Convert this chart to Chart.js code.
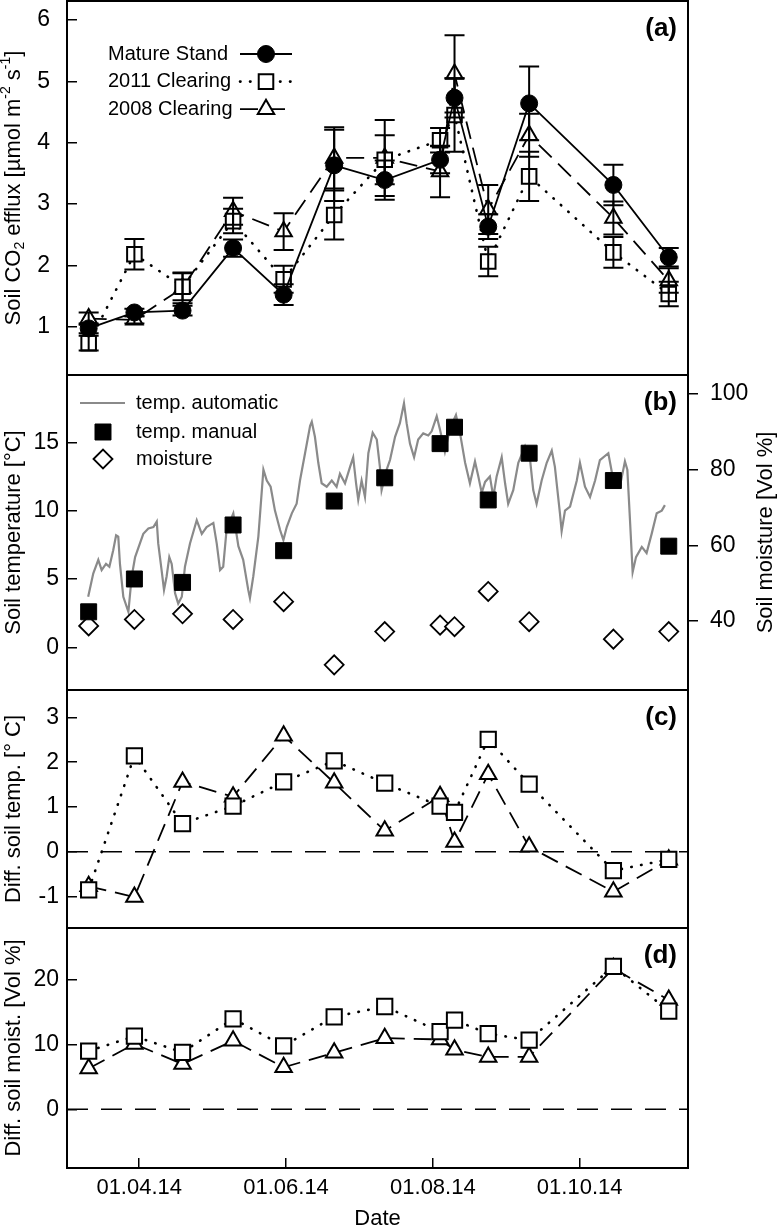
<!DOCTYPE html>
<html lang="en">
<head>
<meta charset="UTF-8">
<meta name="viewport" content="width=device-width, initial-scale=1.0">
<title>Soil CO2 efflux, soil temperature and moisture 2014</title>
<script src="https://cdn.jsdelivr.net/npm/chart.js@4.4.1/dist/chart.umd.min.js"></script>
<style>
  html, body { margin: 0; padding: 0; background: #fff; }
  #figure { position: relative; width: 780px; height: 1230px; overflow: hidden; }
  #figure canvas { position: absolute; left: 0; }
</style>
</head>
<body>
<div id="figure">
  <canvas id="panelA" width="780" height="376" style="top:0px"></canvas>
  <canvas id="panelB" width="780" height="317" style="top:374px"></canvas>
  <canvas id="panelC" width="780" height="240" style="top:689px"></canvas>
  <canvas id="panelD" width="780" height="303" style="top:927px"></canvas>
</div>
<script>
Chart.defaults.font.family = "'Liberation Sans', Arial, Helvetica, sans-serif";
Chart.defaults.color = '#000';

// measurement campaigns, day of year 2014
const campaignDays = [70, 89, 109, 130, 151, 172, 193, 216, 222, 236, 253, 288, 311];
// x ticks (day of year) and their labels
const dateTicks = [91, 152, 213, 274];
const dateLabels = ['01.04.14', '01.06.14', '01.08.14', '01.10.14'];

// (a) soil CO2 efflux [µmol m-2 s-1] and error
const matureStand  = [0.97, 1.23, 1.26, 2.28, 1.52, 3.63, 3.39, 3.72, 4.73, 2.63, 4.64, 3.31, 2.13];
const matureErr    = [0.08, 0.06, 0.08, 0.14, 0.17, 0.58, 0.32, 0.22, 0.32, 0.20, 0.60, 0.33, 0.15];
const clearing2011 = [0.73, 2.18, 1.65, 2.72, 1.77, 2.82, 3.72, 4.04, 4.45, 2.06, 3.45, 2.21, 1.53];
const err2011      = [0.12, 0.25, 0.22, 0.20, 0.22, 0.40, 0.40, 0.20, 0.60, 0.24, 0.40, 0.25, 0.20];
const clearing2008 = [1.13, 1.11, 1.63, 2.88, 2.55, 3.75, 3.75, 3.53, 5.12, 2.91, 4.12, 2.77, 1.75];
const err2008      = [0.10, 0.06, 0.25, 0.22, 0.30, 0.50, 0.62, 0.42, 0.63, 0.40, 0.35, 0.27, 0.20];
const effluxTicks  = [1, 2, 3, 4, 5, 6];

// (b) soil temperature [°C] and moisture [Vol %]
const tempManual = [2.6, 5.0, 4.75, 8.95, 7.07, 10.7, 12.4, 14.9, 16.1, 10.78, 14.2, 12.2, 7.4];
const moisture   = [38.7, 40.4, 41.9, 40.4, 45.1, 28.4, 37.2, 38.9, 38.5, 47.8, 39.8, 35.2, 37.2];
// logger trace
const autoDays = [69.8, 71.9, 74.0, 75.4, 77.2, 78.6, 80.2, 81.4, 82.3, 83.0,
  84.4, 86.5, 87.9, 89.3, 91.3, 92.7, 94.8, 96.9, 98.3, 98.9,
  100.3, 101.3, 102.4, 103.5, 104.5, 105.9, 107.2, 108.7, 110.0, 112.1,
  114.9, 117.0, 119.0, 121.8, 123.2, 124.6, 125.9, 127.3, 130.1, 132.2,
  134.2, 136.3, 137.0, 138.4, 140.5, 142.6, 144.0, 145.6, 147.4, 149.5,
  150.9, 152.3, 154.4, 156.4, 157.8, 159.9, 162.0, 162.7, 164.0, 165.4,
  166.8, 168.9, 171.0, 173.0, 174.4, 176.5, 178.6, 179.9, 181.1, 182.0,
  183.4, 184.8, 186.2, 188.0, 189.7, 191.0, 191.7, 193.8, 195.2, 197.3,
  199.3, 201.0, 202.1, 203.5, 205.2, 206.9, 209.0, 211.1, 212.5, 214.6,
  216.0, 218.0, 220.1, 222.6, 224.3, 226.4, 228.4, 230.5, 231.9, 233.3,
  234.7, 236.7, 238.1, 239.5, 241.6, 243.0, 244.3, 246.4, 248.5, 251.3,
  253.4, 254.7, 256.1, 258.2, 260.3, 262.4, 263.7, 265.8, 266.5, 267.9,
  270.0, 272.8, 274.1, 276.2, 278.3, 280.4, 282.4, 285.9, 288.0, 290.7,
  292.8, 293.8, 294.9, 296.0, 297.4, 299.8, 301.8, 303.9, 306.0, 308.1,
  309.4];
const autoTemp = [3.7, 5.4, 6.4, 5.65, 6.1, 5.9, 7.1, 8.2, 8.1, 6.1,
  3.7, 2.6, 5.2, 6.6, 7.6, 8.3, 8.7, 8.8, 9.2, 7.6,
  5.65, 4.2, 5.2, 6.6, 6.1, 3.95, 3.2, 3.7, 5.9, 7.6,
  9.3, 8.3, 8.8, 9.1, 7.6, 5.65, 5.9, 8.6, 9.8, 7.4,
  6.4, 4.2, 3.6, 5.2, 8.1, 13.0, 12.2, 11.75, 10.0, 8.6,
  7.85, 8.8, 9.8, 10.5, 12.2, 14.2, 16.2, 16.5, 15.4, 13.5,
  12.0, 11.75, 12.2, 11.75, 12.7, 12.0, 13.2, 13.9, 12.0, 10.8,
  12.2, 11.0, 14.2, 15.7, 15.2, 13.2, 11.5, 13.0, 13.7, 15.4,
  16.4, 17.85, 16.4, 14.9, 13.9, 15.2, 15.65, 15.5, 15.8, 16.9,
  15.9, 14.3, 16.0, 17.0, 15.65, 13.5, 12.0, 13.6, 12.5, 11.3,
  12.1, 12.5, 11.0, 12.5, 13.9, 12.0, 10.5, 11.5, 13.5, 14.7,
  13.7, 11.5, 10.5, 12.2, 13.5, 14.4, 13.2, 9.8, 8.5, 10.0,
  10.3, 12.2, 13.5, 11.75, 11.0, 12.2, 13.7, 14.2, 12.2, 11.75,
  13.6, 13.0, 9.3, 5.5, 6.6, 7.35, 6.9, 8.3, 9.8, 10.0,
  10.4];
const tempTicks = [0, 5, 10, 15];
const moistTicks = [40, 60, 80, 100];

// (c) difference of soil temperature to mature stand [°C]
const dTemp2011 = [-0.85, 2.14, 0.63, 1.02, 1.56, 2.03, 1.53, 1.02, 0.88, 2.51, 1.51, -0.42, -0.17];
const dTemp2008 = [-0.77, -1.01, 1.56, 1.23, 2.59, 1.54, 0.47, 1.24, 0.22, 1.73, 0.11, -0.89, -0.18];
const dTempTicks = [-1, 0, 1, 2, 3];

// (d) difference of soil moisture to mature stand [Vol %]
const dMoist2011 = [9.0, 11.3, 8.8, 14.0, 9.8, 14.3, 15.9, 12.0, 13.8, 11.7, 10.7, 22.1, 15.2];
const dMoist2008 = [6.3, 10.1, 7.0, 10.6, 6.5, 8.75, 11.0, 10.8, 9.2, 8.1, 8.1, 21.8, 16.9];
const dMoistTicks = [0, 10, 20];

const FONT = Chart.defaults.font.family;
const pts = arr => campaignDays.map((d, i) => ({ x: d, y: arr[i] }));

// line + marker styles
const solid  = { borderColor: '#000', borderWidth: 1.8, tension: 0 };
const dotted = { borderColor: '#000', borderWidth: 2.6, borderDash: [0.5, 9.5], borderCapStyle: 'round', tension: 0 };
const dashed = { borderColor: '#000', borderWidth: 1.8, borderDash: [18, 9], tension: 0 };
const filledCircle = { pointStyle: 'circle', pointRadius: 8.5, pointBackgroundColor: '#000', pointBorderColor: '#000', pointBorderWidth: 1 };
const openSquare   = { pointStyle: 'rect', pointRadius: 10.3, pointBackgroundColor: '#fff', pointBorderColor: '#000', pointBorderWidth: 2 };
const openTriangle = { pointStyle: 'triangle', pointRadius: 9.5, pointBackgroundColor: '#fff', pointBorderColor: '#000', pointBorderWidth: 2 };

function xAxis(show) {
  return {
    type: 'linear', min: 61, max: 319, display: show,
    afterBuildTicks: s => { s.ticks = dateTicks.map(v => ({ value: v })); },
    afterFit: s => { if (show) s.height = 62; s.paddingLeft = 0; s.paddingRight = 0; },
    grid: { drawOnChartArea: false, drawTicks: true, tickLength: -10, color: '#000', lineWidth: 1.5 },
    border: { display: false },
    ticks: { padding: 17, maxRotation: 0, autoSkip: false, color: '#000', font: { size: 22 },
      callback: v => dateLabels[dateTicks.indexOf(v)] },
    title: { display: show, text: 'Date', color: '#000', font: { size: 22, lineHeight: 1 }, padding: 0 }
  };
}

function yAxis(o) {
  const right = o.position === 'right';
  return {
    type: 'linear', position: o.position || 'left', min: o.min, max: o.max,
    afterBuildTicks: s => { s.ticks = o.ticks.map(v => ({ value: v })); },
    afterFit: s => { s.width = right ? 92 : 67; s.paddingTop = 0; s.paddingBottom = 0; },
    grid: { drawOnChartArea: false, drawTicks: true, tickLength: right ? 10 : -10, color: '#000', lineWidth: 1.5 },
    border: { display: false },
    ticks: { padding: o.pad, color: '#000', font: { size: 23 } },
    title: o.title
      ? { display: true, text: o.title, color: '#000', font: { size: 22 }, padding: { top: 1, bottom: 0 } }
      : { display: false }
  };
}

function options(scales, padRight, padBottom) {
  return {
    responsive: false, animation: false, events: [],
    layout: { autoPadding: false, padding: { top: 1, bottom: padBottom, left: 0, right: padRight } },
    plugins: { legend: { display: false }, tooltip: { enabled: false } },
    scales
  };
}

// drawing helpers
function marker(ctx, ds, x, y) {
  ctx.save();
  ctx.setLineDash([]);
  ctx.fillStyle = ds.pointBackgroundColor;
  ctx.strokeStyle = ds.pointBorderColor;
  ctx.lineWidth = ds.pointBorderWidth;
  Chart.helpers.drawPoint(ctx, { pointStyle: ds.pointStyle, radius: ds.pointRadius, rotation: 0, borderWidth: ds.pointBorderWidth }, x, y);
  ctx.restore();
}

function sampleLine(ctx, ds, x1, x2, y) {
  ctx.save();
  ctx.strokeStyle = ds.borderColor;
  ctx.lineWidth = ds.borderWidth;
  ctx.setLineDash(ds.borderDash || []);
  ctx.lineCap = ds.borderCapStyle || 'butt';
  ctx.beginPath(); ctx.moveTo(x1, y); ctx.lineTo(x2, y); ctx.stroke();
  ctx.restore();
}

function legendText(ctx, text, x, y) {
  ctx.save();
  ctx.fillStyle = '#000';
  ctx.font = '20px ' + FONT;
  ctx.textAlign = 'left'; ctx.textBaseline = 'middle';
  ctx.fillText(text, x, y);
  ctx.restore();
}

function verticalText(ctx, parts, x, yMid) {
  ctx.save();
  ctx.translate(x, yMid);
  ctx.rotate(-Math.PI / 2);
  ctx.fillStyle = '#000';
  ctx.textAlign = 'left'; ctx.textBaseline = 'middle';
  let total = 0;
  parts.forEach(p => { ctx.font = p.size + 'px ' + FONT; p.w = ctx.measureText(p.text).width; total += p.w; });
  let cx = -total / 2;
  parts.forEach(p => { ctx.font = p.size + 'px ' + FONT; ctx.fillText(p.text, cx, p.dy || 0); cx += p.w; });
  ctx.restore();
}

function zeroLine(chart) {
  const { ctx, chartArea: a } = chart;
  const y0 = chart.scales.y.getPixelForValue(0);
  ctx.save();
  ctx.strokeStyle = '#000'; ctx.lineWidth = 1.5; ctx.setLineDash([21, 13]);
  ctx.beginPath(); ctx.moveTo(a.left, y0); ctx.lineTo(a.right, y0); ctx.stroke();
  ctx.restore();
}

function panel(letter, hooks) {
  return {
    id: 'panel',
    beforeDatasetsDraw(chart) { if (hooks.under) hooks.under(chart); },
    afterDatasetsDraw(chart) { if (hooks.over) hooks.over(chart); },
    afterDraw(chart) {
      const { ctx, chartArea: a } = chart;
      ctx.save();
      ctx.strokeStyle = '#000'; ctx.lineWidth = 2; ctx.setLineDash([]);
      ctx.strokeRect(a.left, a.top, a.right - a.left, a.bottom - a.top);
      ctx.fillStyle = '#000';
      ctx.font = 'bold 26px ' + FONT;
      ctx.textAlign = 'right'; ctx.textBaseline = 'middle';
      ctx.fillText(letter, a.right - 11, a.top + 28);
      ctx.restore();
      if (hooks.last) hooks.last(chart);
    }
  };
}

// ---------- (a) ----------
new Chart(document.getElementById('panelA'), {
  type: 'line',
  data: {
    datasets: [
      { label: 'Mature Stand', data: pts(matureStand), errors: matureErr, ...solid, ...filledCircle },
      { label: '2011 Clearing', data: pts(clearing2011), errors: err2011, ...dotted, ...openSquare },
      { label: '2008 Clearing', data: pts(clearing2008), errors: err2008, ...dashed, ...openTriangle }
    ]
  },
  options: options({
    x: xAxis(false),
    y: yAxis({ min: 0.21, max: 6.31, ticks: effluxTicks, pad: 27 })
  }, 92, 1),
  plugins: [panel('(a)', {
    over(chart) {
      // error bars
      const { ctx } = chart;
      const ys = chart.scales.y;
      ctx.save();
      ctx.strokeStyle = '#000'; ctx.lineWidth = 2; ctx.setLineDash([]);
      chart.data.datasets.forEach((ds, i) => {
        chart.getDatasetMeta(i).data.forEach((p, j) => {
          const v = ds.data[j].y, e = ds.errors[j];
          const yTop = ys.getPixelForValue(v + e), yBot = ys.getPixelForValue(v - e);
          ctx.beginPath();
          ctx.moveTo(p.x, yTop); ctx.lineTo(p.x, yBot);
          ctx.moveTo(p.x - 10, yTop); ctx.lineTo(p.x + 10, yTop);
          ctx.moveTo(p.x - 10, yBot); ctx.lineTo(p.x + 10, yBot);
          ctx.stroke();
        });
      });
      ctx.restore();
    },
    last(chart) {
      const { ctx, chartArea: a } = chart;
      const sets = chart.data.datasets;
      sets.forEach((ds, i) => {
        const y = a.top + 53 + i * 27.6;
        legendText(ctx, ds.label, 108, y);
        sampleLine(ctx, ds, 240, 292, y);
        marker(ctx, ds, 266, y);
      });
      verticalText(ctx, [
        { text: 'Soil CO', size: 22 },
        { text: '2', size: 14, dy: 6 },
        { text: ' efflux [µmol m', size: 22 },
        { text: '-2', size: 14, dy: -8 },
        { text: ' s', size: 22 },
        { text: '-1', size: 14, dy: -8 },
        { text: ']', size: 22 }
      ], 14, (a.top + a.bottom) / 2);
    }
  })]
});

// ---------- (b) ----------
new Chart(document.getElementById('panelB'), {
  type: 'line',
  data: {
    datasets: [
      { label: 'temp. manual', data: pts(tempManual), showLine: false, yAxisID: 'y',
        pointStyle: 'rect', pointRadius: 11.3, pointBackgroundColor: '#000', pointBorderColor: '#000', pointBorderWidth: 1 },
      { label: 'moisture', data: pts(moisture), showLine: false, yAxisID: 'y2',
        pointStyle: 'rectRot', pointRadius: 9.5, pointBackgroundColor: '#fff', pointBorderColor: '#000', pointBorderWidth: 1.8 },
      { label: 'temp. automatic', data: autoDays.map((d, i) => ({ x: d, y: autoTemp[i] })), yAxisID: 'y',
        borderColor: '#8a8a8a', borderWidth: 2.2, pointRadius: 0, tension: 0 }
    ]
  },
  options: options({
    x: xAxis(false),
    y: yAxis({ min: -3.12, max: 19.92, ticks: tempTicks, pad: 18, title: 'Soil temperature [°C]' }),
    y2: yAxis({ position: 'right', min: 21.76, max: 105, ticks: moistTicks, pad: 12 })
  }, 0, 1),
  plugins: [panel('(b)', {
    last(chart) {
      const { ctx, chartArea: a } = chart;
      const [manual, moist, auto] = chart.data.datasets;
      sampleLine(ctx, auto, 80, 125, a.top + 28);
      legendText(ctx, auto.label, 136, a.top + 28);
      marker(ctx, manual, 103, a.top + 57);
      legendText(ctx, manual.label, 136, a.top + 57);
      marker(ctx, moist, 103, a.top + 84);
      legendText(ctx, moist.label, 136, a.top + 84);
      verticalText(ctx, [{ text: 'Soil moisture [Vol %]', size: 22 }], 766, (a.top + a.bottom) / 2);
    }
  })]
});

// ---------- (c) ----------
new Chart(document.getElementById('panelC'), {
  type: 'line',
  data: {
    datasets: [
      { label: '2011 Clearing', data: pts(dTemp2011), ...dotted, ...openSquare, pointRadius: 10.8 },
      { label: '2008 Clearing', data: pts(dTemp2008), ...dashed, ...openTriangle }
    ]
  },
  options: options({
    x: xAxis(false),
    y: yAxis({ min: -1.70, max: 3.61, ticks: dTempTicks, pad: 18, title: 'Diff. soil temp. [° C]' })
  }, 92, 1),
  plugins: [panel('(c)', { under: zeroLine })]
});

// ---------- (d) ----------
new Chart(document.getElementById('panelD'), {
  type: 'line',
  data: {
    datasets: [
      { label: '2011 Clearing', data: pts(dMoist2011), ...dotted, ...openSquare, pointRadius: 10.8 },
      { label: '2008 Clearing', data: pts(dMoist2008), ...dashed, ...openTriangle }
    ]
  },
  options: options({
    x: xAxis(true),
    y: yAxis({ min: -9.08, max: 28.04, ticks: dMoistTicks, pad: 18, title: 'Diff. soil moist. [Vol %]' })
  }, 92, 0),
  plugins: [panel('(d)', { under: zeroLine })]
});
</script>
</body>
</html>
